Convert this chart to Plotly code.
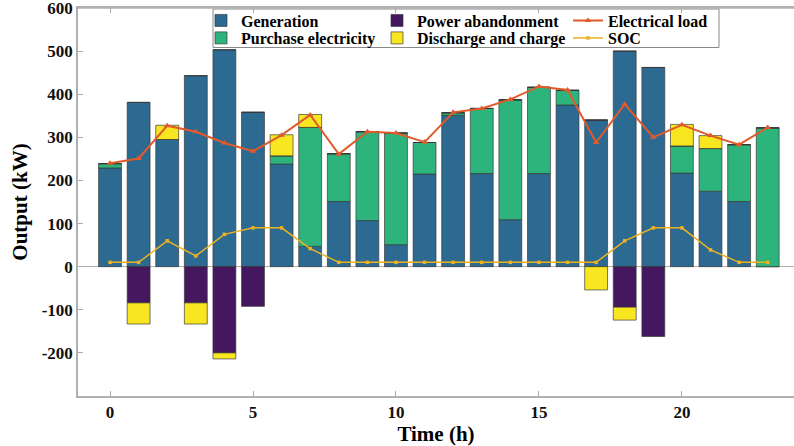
import plotly.graph_objects as go

hours = list(range(24))
generation = [229, 381, 295, 443, 503, 358, 238, 47, 151, 107, 51, 215, 351, 216, 109, 216, 375, 340, 500, 462, 217, 175, 151, 0]
purchase = [10, 0, 0, 0, 0, 0, 19, 276, 111, 206, 259, 73, 6, 151, 278, 200, 34, 0, 0, 0, 63, 99, 132, 322]
abandonment = [0, -84, 0, -84, -200, -92, 0, 0, 0, 0, 0, 0, 0, 0, 0, 0, 0, 0, -94, -162, 0, 0, 0, 0]
discharge_charge = [0, -49, 33, -49, -14, 0, 49, 30, 0, 0, 0, 0, 0, 0, 0, 0, 0, -54, -30, 0, 50, 30, 0, 0]
electrical_load = [240, 251, 327, 313, 287, 268, 305, 352, 261, 313, 310, 289, 358, 367, 388, 418, 410, 288, 377, 300, 329, 304, 283, 323]
soc = [10, 10, 60, 25, 75, 90, 90, 42, 10, 10, 10, 10, 10, 10, 10, 10, 10, 10, 60, 90, 90, 39, 10, 10]

x_tickvals = [0, 5, 10, 15, 20]
y_tickvals = [-200, -100, 0, 100, 200, 300, 400, 500, 600]
y_ticktext = ["-200", "-100", "0", "100", "200", "300", "400", "500", "600"]

FONT = "Liberation Serif"
edge = dict(color="rgba(55,55,55,0.85)", width=0.8)

fig = go.Figure()
fig.add_trace(go.Bar(x=hours, y=generation, name="Generation", marker=dict(color="#2C6A92", line=edge), width=0.8, legend="legend"))
fig.add_trace(go.Bar(x=hours, y=purchase, name="Purchase electricity", marker=dict(color="#2DB47C", line=edge), width=0.8, legend="legend2"))
fig.add_trace(go.Bar(x=hours, y=abandonment, name="Power abandonment", marker=dict(color="#45175E", line=edge), width=0.8, legend="legend3"))
fig.add_trace(go.Bar(x=hours, y=discharge_charge, name="Discharge and charge", marker=dict(color="#F8E620", line=edge), width=0.8, legend="legend4"))
fig.add_trace(go.Scatter(x=hours, y=electrical_load, name="Electrical load", mode="lines+markers",
                         line=dict(color="#E05A2B", width=2), marker=dict(symbol="triangle-up", size=6, color="#E05A2B"), legend="legend5"))
fig.add_trace(go.Scatter(x=hours, y=soc, name="SOC", mode="lines+markers",
                         line=dict(color="#EDB120", width=1.5), marker=dict(symbol="square", size=3.5, color="#EDB120"), legend="legend6"))
for tr in fig.data:
    tr.showlegend = True

leg_font = dict(family=FONT, size=16, color="black", weight="bold")
common = dict(bgcolor="rgba(0,0,0,0)", borderwidth=0, font=leg_font, xanchor="left", yanchor="middle",
              orientation="v", itemwidth=30, tracegroupgap=0, visible=True)


def px_x(X):
    return (X - 78) / 716


def px_y(Y):
    return (396 - Y) / 388


row1, row2 = px_y(20.5), px_y(38)
col1, col2, col3 = px_x(201), px_x(377), px_x(568)

fig.update_layout(
    showlegend=True,
    barmode="relative",
    bargap=0.2,
    width=794, height=446,
    margin=dict(l=78, r=0, t=8, b=50, autoexpand=False),
    paper_bgcolor="white", plot_bgcolor="white",
    font=dict(family=FONT, color="black"),
    legend=dict(x=col1, y=row1, **common),
    legend2=dict(x=col1, y=row2, **common),
    legend3=dict(x=col2, y=row1, **common),
    legend4=dict(x=col2, y=row2, **common),
    legend5=dict(x=col3, y=row1, **common),
    legend6=dict(x=col3, y=row2, **common),
    shapes=[
        dict(type="rect", xref="paper", yref="paper", x0=px_x(213), x1=px_x(719),
             y0=px_y(47.5), y1=px_y(9),
             line=dict(color="#8a8a8a", width=1), fillcolor="white", layer="below"),
        dict(type="line", xref="paper", yref="paper", x0=0, x1=1, y0=1, y1=1,
             line=dict(color="#b0b0b0", width=1.5), layer="above"),
    ],
    xaxis=dict(range=[-1.12, 23.92], tickvals=x_tickvals, ticks="inside", ticklen=5, tickcolor="#aaaaaa",
               showline=True, linecolor="#b0b0b0", linewidth=1.5, mirror="ticks", showgrid=False, zeroline=False,
               automargin=False, ticklabeloverflow="allow",
               tickfont=dict(family=FONT, size=17, color="#111", weight="bold"),
               title=dict(text="Time (h)", font=dict(family=FONT, size=21, color="black", weight="bold"), standoff=2)),
    yaxis=dict(range=[-300, 600], tickvals=y_tickvals, ticktext=y_ticktext, ticks="inside", ticklen=5, tickcolor="#aaaaaa",
               showline=True, linecolor="#b0b0b0", linewidth=1.5, mirror=False, showgrid=False,
               zeroline=True, zerolinecolor="#b0b0b0", zerolinewidth=1.2, automargin=False, ticklabeloverflow="allow",
               tickfont=dict(family=FONT, size=17, color="#111", weight="bold"),
               title=dict(text="Output (kW)", font=dict(family=FONT, size=21, color="black", weight="bold"), standoff=8)),
)

fig.write_html("out.html")
